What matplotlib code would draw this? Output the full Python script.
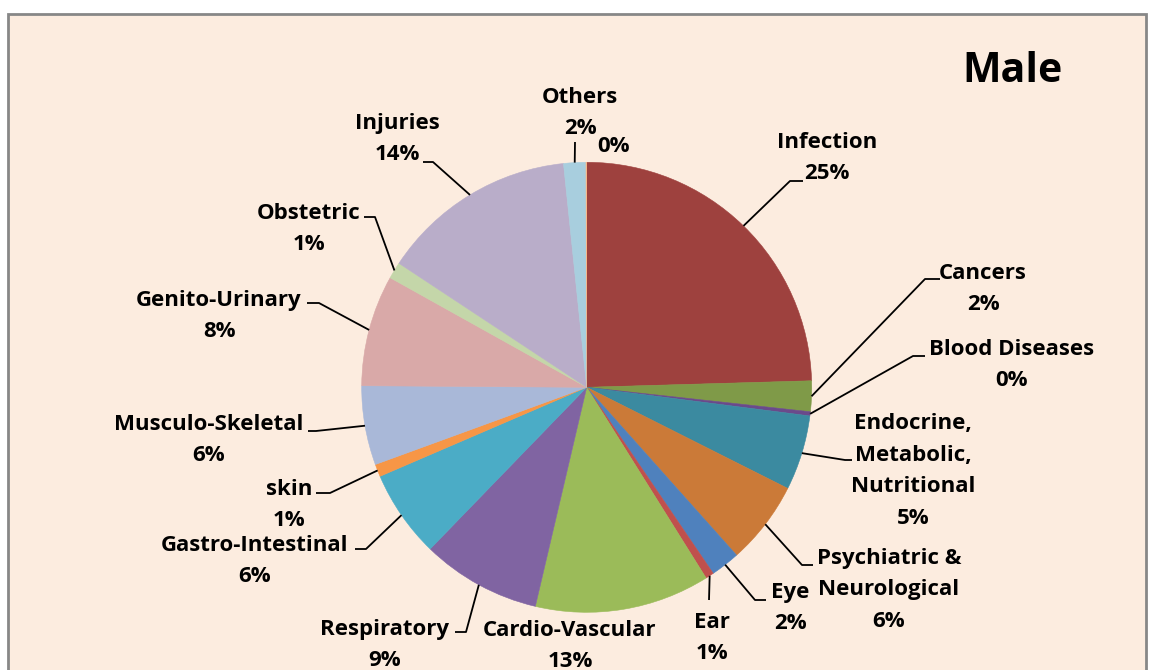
import numpy as np
import matplotlib
matplotlib.use('Agg')
import matplotlib.pyplot as plt
from matplotlib.patches import Rectangle

plt.rcParams['font.family'] = ['Open Sans', 'DejaVu Sans']

# data (clockwise from 12 o'clock)
categories = ['Infection', 'Cancers', 'Blood Diseases', 'Endocrine,\nMetabolic,\nNutritional',
              'Psychiatric &\nNeurological', 'Eye', 'Ear', 'Cardio-Vascular', 'Respiratory',
              'Gastro-Intestinal', 'skin', 'Musculo-Skeletal', 'Genito-Urinary', 'Obstetric',
              'Injuries', 'Others', '']
values = [24.6, 2.2, 0.3, 5.4, 6.0, 2.1, 0.6, 12.6, 8.6, 6.3, 0.9, 5.7, 8.0, 1.2, 14.1, 1.6, 0.05]
colors = ['#9E413E', '#7F9A48', '#6A4A8B', '#3B8AA0', '#CB7A38', '#4F81BD', '#C0504D',
          '#9BBB59', '#8064A2', '#4BACC6', '#F79646', '#A9B8D8', '#D9A9A8', '#C4D6A9',
          '#B9ADC9', '#A8CEDE', '#F9B98A']

W, H = 1149, 670
# label layout in pixels from top-left: text block centre, leader elbow, leader end
layout = {
    'Infection': ((827, 158), (790, 181), (803, 181)),
    'Cancers': ((983, 289), (925, 279), (940, 279)),
    'Blood Diseases': ((1012, 365), (913, 356), (925, 356)),
    'Endocrine,\nMetabolic,\nNutritional': ((913, 471), (845, 460), (852, 460)),
    'Psychiatric &\nNeurological': ((889, 590), (802, 565), (813, 565)),
    'Eye': ((790, 608), (755, 600), (766, 600)),
    'Ear': ((712, 638), (709, 600), (709, 600)),
    'Cardio-Vascular': ((570, 646), None, None),
    'Respiratory': ((385, 645), (466, 632), (455, 632)),
    'Gastro-Intestinal': ((255, 561), (366, 549), (355, 549)),
    'skin': ((289, 505), (330, 493), (316, 493)),
    'Musculo-Skeletal': ((209, 440), (316, 431), (308, 431)),
    'Genito-Urinary': ((219, 316), (319, 303), (307, 303)),
    'Obstetric': ((309, 229), (375, 217), (364, 217)),
    'Injuries': ((397, 139), (433, 162), (423, 162)),
    'Others': ((580, 113), (575, 142), (575, 142)),
    '': ((613, 146), None, None),
}

cx, cy, R = 586.7, 387.3, 225


def fy(y):
    return H - y


fig = plt.figure(figsize=(W / 100, H / 100), dpi=100)
fig.patch.set_facecolor('white')
ax = fig.add_axes([0, 0, 1, 1])

ax.add_patch(Rectangle((8, fy(740)), 1138, 726, facecolor='#FCECDF',
                       edgecolor='#878787', linewidth=2, zorder=0))

wedges, _ = ax.pie(values, colors=colors, startangle=90, counterclock=False,
                   center=(cx, fy(cy)), radius=R,
                   wedgeprops=dict(linewidth=0.4, edgecolor='none'))
for w, c in zip(wedges, colors):
    w.set_edgecolor(c)

total = sum(values)
cum = 0
for name, v in zip(categories, values):
    mid = (cum + v / 2) / total * 2 * np.pi
    cum += v
    pct = '%d%%' % round(v / total * 100)
    (tx, ty), elbow, end = layout[name]
    txt = pct if name == '' else name + '\n' + pct
    ax.text(tx, fy(ty), txt, ha='center', va='center', fontsize=16,
            fontweight='bold', linespacing=1.67, color='black')
    if elbow is not None:
        sx = cx + R * np.sin(mid)
        sy = cy - R * np.cos(mid)
        ax.plot([sx, elbow[0], end[0]], [fy(sy), fy(elbow[1]), fy(end[1])],
                color='black', linewidth=1.3, solid_capstyle='butt')

ax.text(1013, fy(72), 'Male', ha='center', va='center', fontsize=29.5, fontweight='bold')

ax.set_xlim(0, W)
ax.set_ylim(0, H)
ax.set_aspect('auto')
ax.axis('off')

fig.savefig('out.png', dpi=100)
